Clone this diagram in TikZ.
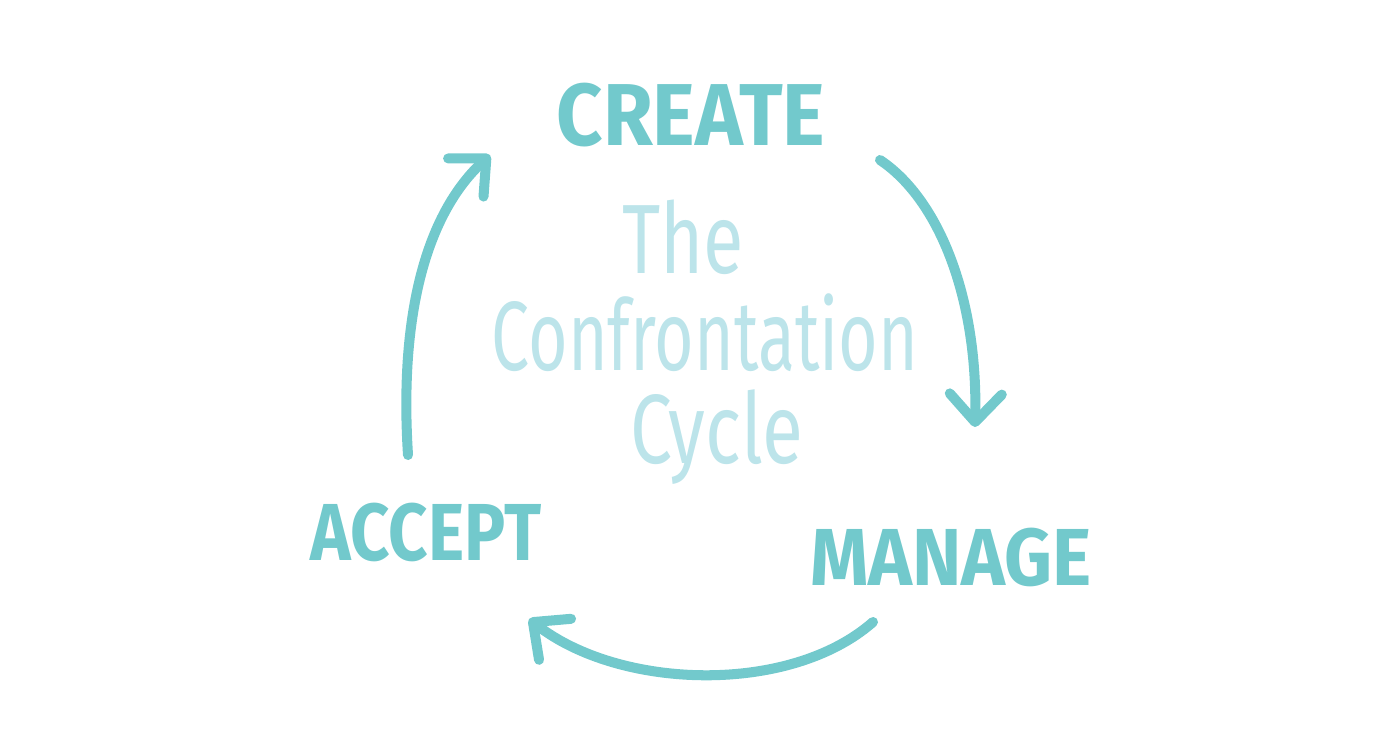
\documentclass[tikz,border=0pt]{standalone}
\usepackage{fontspec}
\setmainfont{Fira Sans}
\usepackage{tikz}
\newcommand{\loopwidth}{2.85pt}
\newcommand{\squash}[2]{\scalebox{#1}[1]{#2}}
\definecolor{cycleTeal}{RGB}{114,201,204}
\definecolor{cyclePale}{RGB}{188,228,234}
\usetikzlibrary{arrows.meta}
\tikzset{
  x=0.01cm,
  y=-0.01cm,
  stage/.style={text=cycleTeal,font=\bfseries\fontsize{23}{23}\selectfont,inner sep=0,anchor=base},
  heading/.style={text=cyclePale,font=\fontsize{28}{30}\selectfont,inner sep=0,anchor=base},
  turn/.style={draw=cycleTeal,line width=\loopwidth,line cap=round,-{Straight Barb[length=2.8mm,width=5.2mm,round]}},
}

\begin{document}
\begin{tikzpicture}
    \useasboundingbox (0,0) rectangle (1400,745);

    \node (create) [stage,font=\bfseries\fontsize{25}{25}\selectfont] at (691,145) {\squash{0.92}{CREATE}};
    \node (manage) [stage] at (951,585) {\squash{0.92}{MANAGE}};
    \node (accept) [stage] at (426,560) {\squash{0.85}{ACCEPT}};

    \node (the) [heading] at (683,273) {\squash{0.75}{The}};
    \node (confrontation) [heading] at (705,370) {\squash{0.69}{Confrontation}};
    \node (cycle) [heading] at (717,463) {\squash{0.76}{Cycle}};

    \coordinate (createEnd) at (880,160);
    \coordinate (manageTop) at (975,427);
    \coordinate (manageEnd) at (873,622);
    \coordinate (acceptTop) at (529,619);
    \coordinate (acceptEnd) at (408,455);
    \coordinate (createTop) at (490,155);

    \path [turn] (createEnd) .. controls (940,200) and (978,300) .. (manageTop);
    \path [turn] (manageEnd) .. controls (790,695) and (620,690) .. (acceptTop);
    \path [turn] (acceptEnd) .. controls (400,330) and (420,220) .. (createTop);
\end{tikzpicture}
\end{document}
